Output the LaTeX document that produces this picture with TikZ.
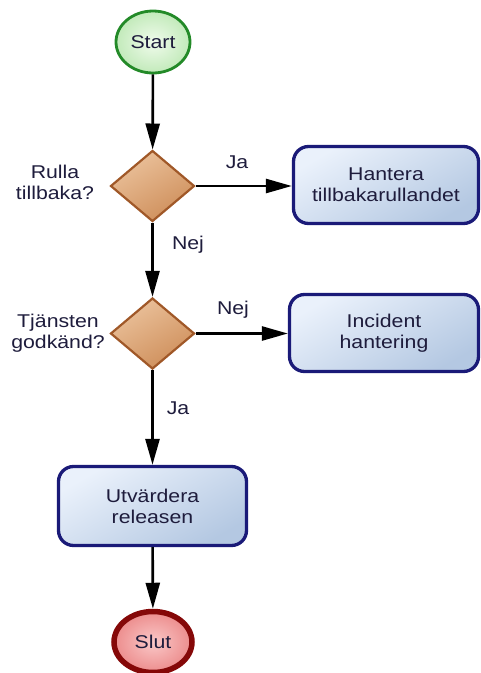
\documentclass[tikz,border=0pt]{standalone}
\usepackage{fontspec}
\setmainfont{Liberation Sans}[FakeStretch=1.15]
\usetikzlibrary{shapes.geometric,arrows.meta}
\definecolor{txt}{HTML}{1E1C3C}
\definecolor{startborder}{HTML}{238A28}
\definecolor{startin}{HTML}{F0FBEC}
\definecolor{startout}{HTML}{C2EABA}
\definecolor{diaborder}{HTML}{A05828}
\definecolor{diatop}{HTML}{EBC29C}
\definecolor{diabot}{HTML}{CE8E5A}
\definecolor{boxborder}{HTML}{1A1A78}
\definecolor{boxtop}{HTML}{EAF1FB}
\definecolor{boxbot}{HTML}{B4C8E2}
\definecolor{endborder}{HTML}{850808}
\definecolor{endin}{HTML}{FAC8C8}
\definecolor{endout}{HTML}{EC8C8C}
\tikzset{
  every node/.style={font=\fontsize{18.5}{21}\selectfont, text=txt},
  terminal/.style={ellipse, inner sep=0pt},
  startnode/.style={terminal, draw=startborder, line width=2.8pt, inner color=startin, outer color=startout, minimum width=74pt, minimum height=62pt},
  endnode/.style={terminal, draw=endborder, line width=5.5pt, inner color=endin, outer color=endout, minimum width=78pt, minimum height=61pt},
  decision/.style={diamond, draw=diaborder, line width=2.2pt, top color=diatop, bottom color=diabot, shading angle=30, inner sep=0pt, minimum width=84pt, minimum height=71pt},
  process/.style={rectangle, rounded corners=15pt, draw=boxborder, line width=3.3pt, top color=boxtop, bottom color=boxbot, shading angle=30, align=center, inner sep=0pt},
  sidetext/.style={align=center},
  flow/.style={line width=2.6pt, -{Triangle[length=26pt,width=14pt]}},
  lbl/.style={}
}
\begin{document}
\begin{tikzpicture}[x=1pt,y=-1pt]
\useasboundingbox (0,0) rectangle (481,673);
\node[startnode] (start) at (153,42) {Start};
\node[decision] (d1) at (152.5,186) {};
\node[process, minimum width=185pt, minimum height=77pt] (b1) at (386,185) {Hantera\\tillbakarullandet};
\node[decision] (d2) at (152.5,333.5) {};
\node[process, minimum width=189pt, minimum height=77pt] (b2) at (384,333) {Incident\\hantering};
\node[process, minimum width=188pt, minimum height=79pt] (b3) at (152.5,506) {Utvärdera\\releasen};
\node[endnode] (slut) at (153,642) {Slut};
\node[sidetext] (q1) at (55,182) {Rulla\\tillbaka?};
\node[sidetext] (q2) at (58,333) {Tjänsten\\godkänd?};
\draw[flow] (start) -- (d1);
\draw[flow] (d1.east) -- (b1.west |- d1.east);
\draw[flow] (d1) -- (d2);
\draw[flow] (d2.east) -- (b2.west |- d2.east);
\draw[flow] (d2) -- (b3);
\draw[flow] (b3) -- (slut);
\node[lbl] (ja1) at (237,162) {Ja};
\node[lbl] (nej1) at (188,245) {Nej};
\node[lbl] (nej2) at (233,310) {Nej};
\node[lbl] (ja2) at (178,408) {Ja};
\end{tikzpicture}
\end{document}
